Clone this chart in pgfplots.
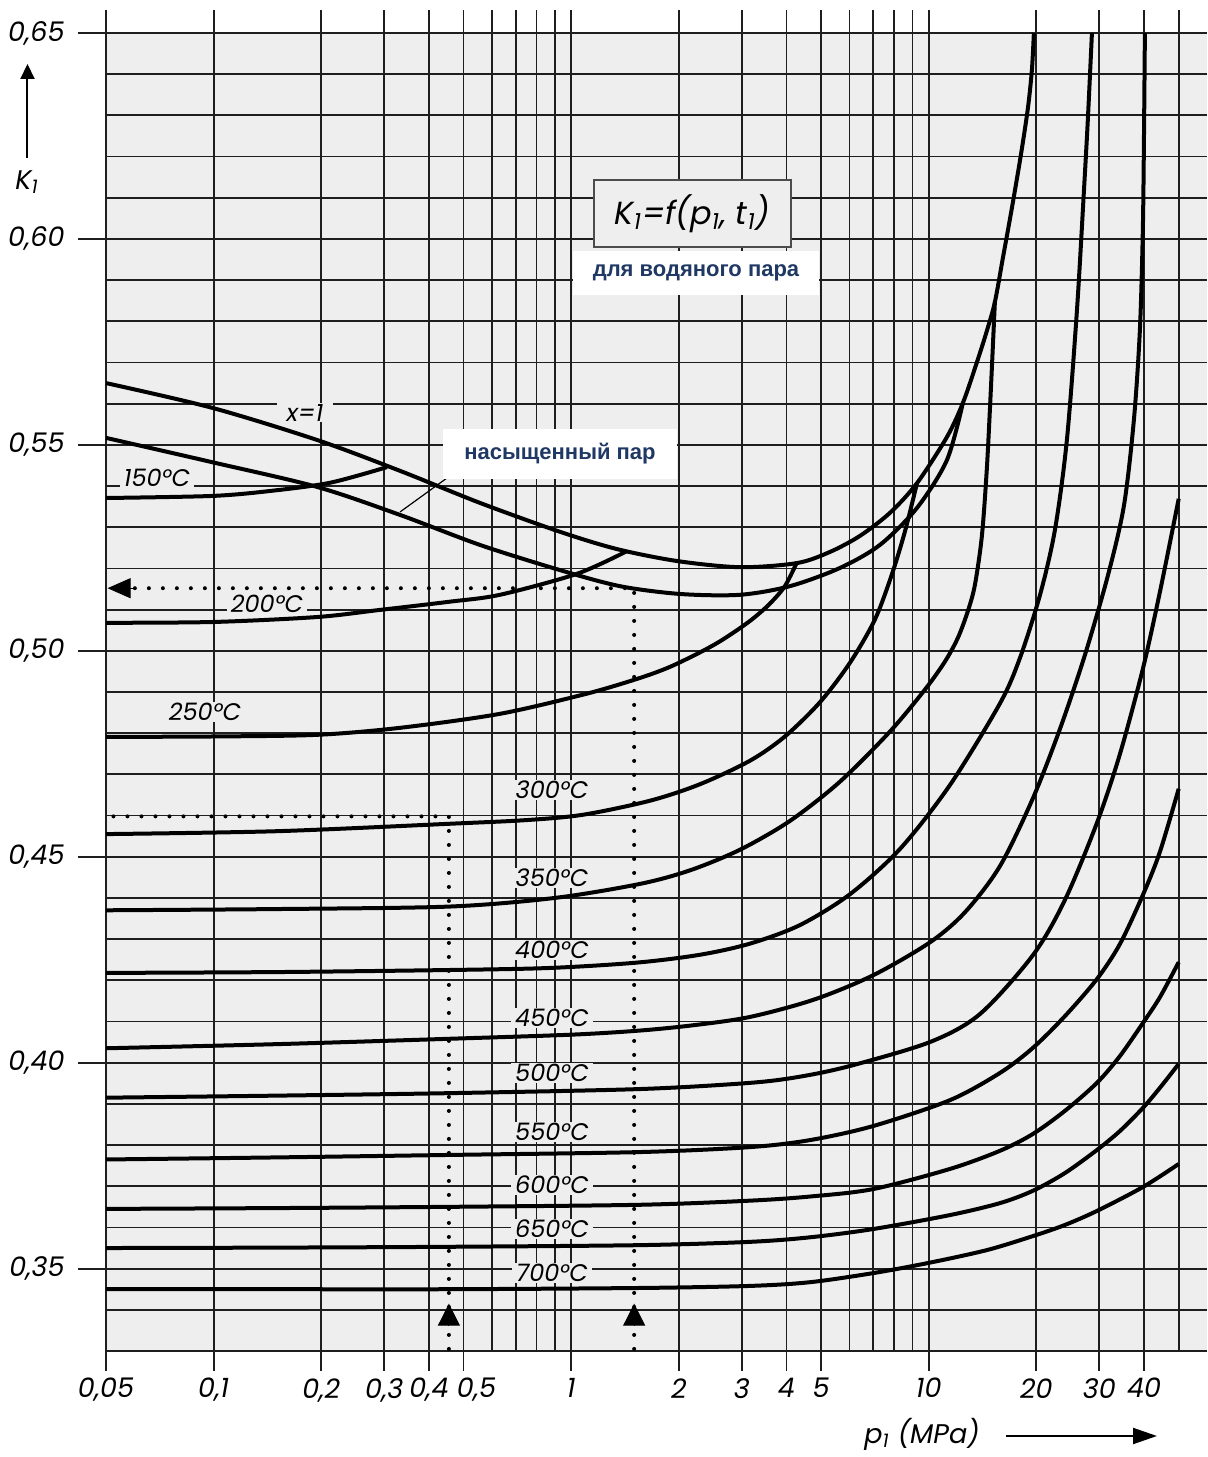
\documentclass[border=0pt]{standalone}
\usepackage{pgfplots}
\pgfplotsset{compat=1.18}
\usepackage{fontspec}
\setmainfont{Poppins}
\newfontfamily\rufont{Liberation Sans}
\usetikzlibrary{arrows.meta}
\definecolor{bg}{RGB}{238,238,238}
\definecolor{navy}{RGB}{31,56,100}
\definecolor{gridc}{RGB}{30,30,30}
\newcommand{\tfont}{\fontsize{13.5}{13.5}\selectfont\itshape}
\newcommand{\lfont}{\fontsize{12}{12}\selectfont\itshape}
\begin{document}
\begin{tikzpicture}
\begin{axis}[
  at={(0,0)}, anchor=south west,
  scale only axis, width=550.5pt, height=659pt,
  xmode=log, xmin=0.05, xmax=60, ymin=0.33, ymax=0.65,
  axis line style={draw=none},
  axis background/.style={fill=bg},
  xtick={0.05,0.1,0.2,0.3,0.4,0.5,1,2,3,4,5,10,20,30,40},
  xticklabels={{0,05},{0,1},{0,2},{0,3},{0,4},{\hspace*{13pt}0,5},1,2,3,4,5,10,20,30,40},
  minor xtick={0.6,0.7,0.8,0.9,6,7,8,9,50},
  ytick={0.35,0.40,0.45,0.50,0.55,0.60,0.65},
  yticklabels={{0,35},{0,40},{0,45},{0,50},{0,55},{0,60},{0,65}},
  minor ytick={0.33,0.34,0.36,0.37,0.38,0.39,0.41,0.42,0.43,0.44,0.46,0.47,0.48,0.49,0.51,0.52,0.53,0.54,0.56,0.57,0.58,0.59,0.61,0.62,0.63,0.64},
  grid=both,
  major grid style={gridc, line width=0.9pt},
  minor grid style={gridc, line width=0.9pt},
  major tick length=0pt, minor tick length=0pt,
  xticklabel style={font=\tfont, anchor=north, inner sep=0pt, yshift=-13.5pt},
  yticklabel style={font=\tfont, anchor=east, inner sep=0pt, xshift=-20.5pt},
  clip=false,
  every axis plot/.append style={line width=2pt, black, no markers},
]
% stubs
\pgfplotsinvokeforeach{0.05,0.1,0.2,0.3,0.4,0.5,0.6,0.7,0.8,0.9,1,2,3,4,5,6,7,8,9,10,20,30,40,50}{
  \draw[gridc, line width=0.9pt] (axis cs:#1,0.65) -- ++(0pt,11.5pt);}
\pgfplotsinvokeforeach{0.05,0.1,0.2,0.3,0.4,0.5,1,2,3,4,5,10,20,30,40}{
  \draw[gridc, line width=0.9pt] (axis cs:#1,0.33) -- ++(0pt,-10pt);}
\pgfplotsinvokeforeach{0.35,0.40,0.45,0.50,0.55,0.60,0.65}{
  \draw[gridc, line width=0.9pt] (axis cs:0.05,#1) -- ++(-14pt,0pt);}

% saturation line x=1
\addplot[smooth] coordinates {(0.05,0.5650) (0.099,0.5590) (0.1945,0.5512) (0.332,0.5437) (0.556,0.5359) (0.930,0.5289) (1.343,0.5247) (1.977,0.5218) (2.965,0.5203) (4.28,0.5213) (5.29,0.5240) (6.42,0.5279) (7.79,0.5335) (9.27,0.5407) (11.24,0.5519) (12.46,0.5602) (13.64,0.5701) (14.54,0.5777) (15.31,0.5847) (16.12,0.5954) (17.08,0.6075) (18.1,0.6204) (18.94,0.6318) (19.43,0.6410) (19.68,0.65)};
% lower saturated line
\addplot[smooth] coordinates {(0.05,0.5517) (0.099,0.5458) (0.1945,0.5398) (0.332,0.5330) (0.556,0.5257) (0.930,0.5196) (1.368,0.5157) (2.015,0.5138) (2.965,0.5136) (4.09,0.5157) (5.64,0.5201) (7.3,0.5257) (9.27,0.5347) (11.24,0.5463) (12.46,0.5602)};
% 150
\addplot[smooth] coordinates {(0.05,0.5371) (0.099,0.5376) (0.1437,0.5388) (0.2115,0.5408) (0.3054,0.5446)};
% 200
\addplot[smooth] coordinates {(0.05,0.5068) (0.1,0.5070) (0.1945,0.5082) (0.29,0.5099) (0.455,0.5119) (0.632,0.5136) (1.038,0.5187) (1.432,0.5242)};
% 250
\addplot[smooth] coordinates {(0.05,0.4791) (0.1,0.4792) (0.1945,0.4796) (0.332,0.4813) (0.632,0.4847) (1.107,0.4896) (1.556,0.4934) (1.889,0.4961) (2.29,0.4996) (2.606,0.5023) (2.965,0.5055) (3.265,0.5082) (3.6,0.5115) (3.96,0.5157) (4.28,0.5215)};
% 300
\addplot[smooth] coordinates {(0.05,0.4555) (0.15,0.4562) (0.455,0.4580) (0.75,0.4589) (1.079,0.4602) (1.66,0.4636) (2.29,0.4676) (3.16,0.4733) (3.96,0.4792) (4.96,0.4875) (6.02,0.4971) (7.07,0.5076) (7.89,0.5186) (8.58,0.5290) (9.27,0.5407)};
% 350
\addplot[smooth] coordinates {(0.05,0.4370) (0.15,0.4373) (0.455,0.4379) (0.9,0.4400) (1.556,0.4434) (2.149,0.4467) (2.965,0.4517) (4.09,0.4587) (5.64,0.4682) (7.79,0.4804) (9.76,0.4906) (11.1,0.4974) (12.07,0.5032) (12.87,0.5097) (13.46,0.5160) (14.08,0.5279) (14.54,0.5444) (14.92,0.5636) (15.31,0.5848)};
% 400
\addplot[smooth] coordinates {(0.05,0.4218) (0.15,0.4220) (0.455,0.4225) (0.872,0.4230) (1.527,0.4243) (2.29,0.4262) (3.16,0.4289) (4.36,0.4334) (6.02,0.4409) (8.31,0.4519) (11.46,0.4674) (15.81,0.4872) (17.98,0.4982) (20.46,0.5135) (22.53,0.5293) (24.34,0.5512) (25.97,0.5827) (27.16,0.6116) (27.86,0.6291) (28.6,0.65)};
% 450
\addplot[smooth] coordinates {(0.05,0.4035) (0.15,0.4045) (0.455,0.4058) (1.0,0.4068) (1.556,0.4078) (2.2,0.4091) (3.16,0.4111) (4.77,0.4153) (6.98,0.4212) (10.07,0.4292) (12.62,0.4365) (15.81,0.4477) (19.56,0.4642) (23.27,0.4810) (27.34,0.4990) (31.7,0.5183) (35.14,0.5352) (37.47,0.5560) (38.95,0.5779) (39.7,0.6022) (40.0,0.6264) (40.22,0.65)};
% 500
\addplot[smooth] coordinates {(0.05,0.3915) (0.15,0.3920) (0.455,0.3926) (1.556,0.3936) (3.16,0.3951) (4.36,0.3966) (6.02,0.3992) (10.07,0.4050) (13.9,0.4118) (19.56,0.4261) (24.03,0.4395) (29.53,0.4582) (34.24,0.4749) (39.7,0.4956) (44.31,0.5143) (50,0.5369)};
% 550
\addplot[smooth] coordinates {(0.05,0.3765) (0.15,0.3770) (0.455,0.3776) (1.556,0.3783) (3.16,0.3795) (4.65,0.3812) (6.98,0.3846) (11.46,0.3909) (15.81,0.3975) (19.56,0.4036) (24.03,0.4113) (29.53,0.4203) (34.24,0.4288) (39.7,0.4407) (44.31,0.4512) (50,0.4665)};
% 600
\addplot[smooth] coordinates {(0.05,0.3645) (0.15,0.3647) (0.455,0.3650) (1.556,0.3655) (3.16,0.3665) (4.65,0.3675) (6.98,0.3693) (11.46,0.3742) (15.81,0.3786) (19.56,0.3827) (24.03,0.3883) (29.53,0.3951) (34.24,0.4016) (39.7,0.4096) (44.31,0.4159) (50,0.4244)};
% 650
\addplot[smooth] coordinates {(0.05,0.3550) (0.15,0.3551) (0.455,0.3553) (1.556,0.3557) (3.16,0.3565) (4.65,0.3576) (6.98,0.3596) (11.46,0.3630) (15.81,0.3659) (19.56,0.3689) (24.03,0.3732) (29.53,0.3788) (34.24,0.3834) (39.7,0.3890) (44.31,0.3939) (50,0.3997)};
% 700
\addplot[smooth] coordinates {(0.05,0.3450) (0.15,0.3450) (0.455,0.3450) (1.556,0.3453) (3.16,0.3458) (4.65,0.3467) (6.98,0.3489) (10,0.3514) (14.54,0.3545) (19.56,0.3579) (24.03,0.3606) (29.53,0.3640) (39.7,0.3698) (50,0.3754)};

% dotted guide lines
\addplot[line width=2pt, dash pattern=on 0pt off 7pt, line cap=round] coordinates {(1.5,0.3305) (1.5,0.5152) (0.058,0.5152)};
\addplot[line width=2pt, dash pattern=on 0pt off 7pt, line cap=round] coordinates {(0.455,0.3305) (0.455,0.4598) (0.05,0.4598)};
\addplot[line width=0.5pt, -{Triangle[length=11.5pt,width=10pt]}] coordinates {(0.06,0.5152) (0.0505,0.5152)};
\addplot[line width=0.5pt, -{Triangle[length=11pt,width=11pt]}] coordinates {(1.5,0.3362) (1.5,0.3415)};
\addplot[line width=0.5pt, -{Triangle[length=11pt,width=11pt]}] coordinates {(0.455,0.3362) (0.455,0.3415)};
\end{axis}

\begin{scope}[x=0.5pt,y=-0.5pt,shift={(-53pt,675.5pt)}]
  % y axis label
  \draw[line width=1pt, -{Triangle[length=7.5pt,width=7pt]}] (27.5,158) -- (27.5,64);
  \node[font=\tfont] at (27,182) {K\textsubscript{1}};
  % x axis label
  \node[font=\tfont] at (922,1434) {p\textsubscript{1} (MPa)};
  \draw[line width=1pt, -{Triangle[length=12pt,width=8pt]}] (1006,1436) -- (1157,1436);
  % curve labels
  \tikzset{lbl/.style={fill=bg, inner xsep=2pt, inner ysep=0.5pt, font=\lfont}}
  \node[lbl, inner xsep=5pt] at (305,413) {x=1};
  \node[lbl] at (157,478) {150°C};
  \node[lbl] at (267,604) {200°C};
  \node[lbl] at (205,712) {250°C};
  \node[lbl] at (552,790) {300°C};
  \node[lbl] at (552,878) {350°C};
  \node[lbl] at (552,950) {400°C};
  \node[lbl] at (552,1018) {450°C};
  \node[lbl] at (552,1073) {500°C};
  \node[lbl] at (552,1132) {550°C};
  \node[lbl] at (552,1185) {600°C};
  \node[lbl] at (552,1229) {650°C};
  \node[lbl] at (552,1273) {700°C};
  % leader line
  \draw[line width=0.6pt] (400,512) -- (447,478);
  % boxes
  \node[fill=white, minimum width=117pt, minimum height=25pt, inner sep=0pt, font=\rufont\bfseries\fontsize{11}{11}\selectfont, text=navy] at (560,454) {насыщенный пар};
  \node[draw=black!70, line width=1pt, fill=bg, minimum width=98.5pt, minimum height=33.5pt, inner sep=0pt, font=\fontsize{16}{16}\selectfont\itshape] at (692.5,213.5) {K\textsubscript{1}=f(p\textsubscript{1}, t\textsubscript{1})};
  \node[fill=white, minimum width=123pt, minimum height=22pt, inner sep=0pt, font=\rufont\bfseries\fontsize{11}{11}\selectfont, text=navy] at (696,273) {для водяного пара};
\end{scope}
\pgfresetboundingbox
\path (-53pt,-53pt) rectangle (550.5pt,675.5pt);
\end{tikzpicture}
\end{document}
